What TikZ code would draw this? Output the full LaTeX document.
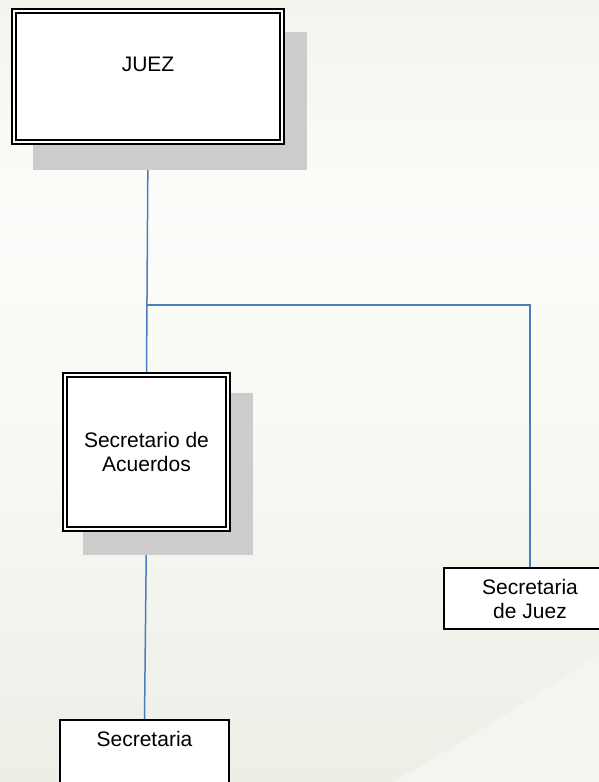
\documentclass[tikz,border=0pt]{standalone}
\usepackage{fontspec}
\setmainfont{Liberation Sans}
\usetikzlibrary{calc}
\definecolor{linkblue}{HTML}{4A7EBB}
\definecolor{shadowgray}{HTML}{CCCCCC}
\definecolor{bgtop}{HTML}{F3F4EE}
\definecolor{bgmid}{HTML}{FCFCFA}
\definecolor{bgmidb}{HTML}{F8F8F4}
\definecolor{bgbot}{HTML}{EDEEE6}
\definecolor{swooshcol}{HTML}{F4F5F0}
\pgfdeclareverticalshading{bgshade}{100bp}{color(0bp)=(bgbot); color(25bp)=(bgbot); color(46bp)=(bgmidb); color(62bp)=(bgmid); color(75bp)=(bgtop); color(100bp)=(bgtop)}
\pgfdeclarelayer{bglayer}
\pgfdeclarelayer{linelayer}
\pgfdeclarelayer{shadlayer}
\pgfsetlayers{bglayer,linelayer,shadlayer,main}
\newcommand{\orgfs}{\fontsize{21}{24}\selectfont}
\tikzset{
  dbox/.style={draw=black, line width=2pt, double=white, double distance=2pt, fill=white, font=\orgfs, align=center, inner sep=0pt, outer sep=0pt},
  sbox/.style={draw=black, line width=2pt, fill=white, font=\orgfs, align=center, inner sep=0pt, outer sep=0pt},
  link/.style={draw=linkblue, line width=1.5pt},
  shadowbox/.style={fill=shadowgray}
}
\begin{document}
\begin{tikzpicture}[x=1pt,y=-1pt]
\useasboundingbox (0,0) rectangle (599,782);
\begin{pgfonlayer}{bglayer}
  \shade[shading=bgshade] (0,0) rectangle (599,782);
  \fill[swooshcol] (393,782) .. controls (470,738) and (540,692) .. (599,655) -- (599,782) -- cycle;
\end{pgfonlayer}

\node[dbox, minimum width=268pt, minimum height=131pt, text height=15pt, text depth=26pt] (juez) at (148,76.5) {JUEZ};
\node[dbox, minimum width=163pt, minimum height=154pt] (sec) at (146.5,452) {Secretario de\\Acuerdos};
\node[sbox, minimum width=172pt, minimum height=61pt] (sj) at (530,598.5) {Secretaria\\de Juez};
\node[sbox, minimum width=169pt, minimum height=80pt, text height=15pt, text depth=43pt] (s) at (144.5,760) {Secretaria};

\coordinate (j) at (147,305);

\begin{pgfonlayer}{shadlayer}
  \fill[shadowbox] ([shift={(19,21)}]juez.north west) rectangle ([shift={(25,28)}]juez.south east);
  \fill[shadowbox] ([shift={(18,18)}]sec.north west) rectangle ([shift={(25,26)}]sec.south east);
\end{pgfonlayer}

\begin{pgfonlayer}{linelayer}
  \draw[link] (juez.south) -- (sec.north);
  \draw[link] (j) -| (sj.north);
  \draw[link] (sec.south) -- (s.north);
\end{pgfonlayer}
\end{tikzpicture}
\end{document}
